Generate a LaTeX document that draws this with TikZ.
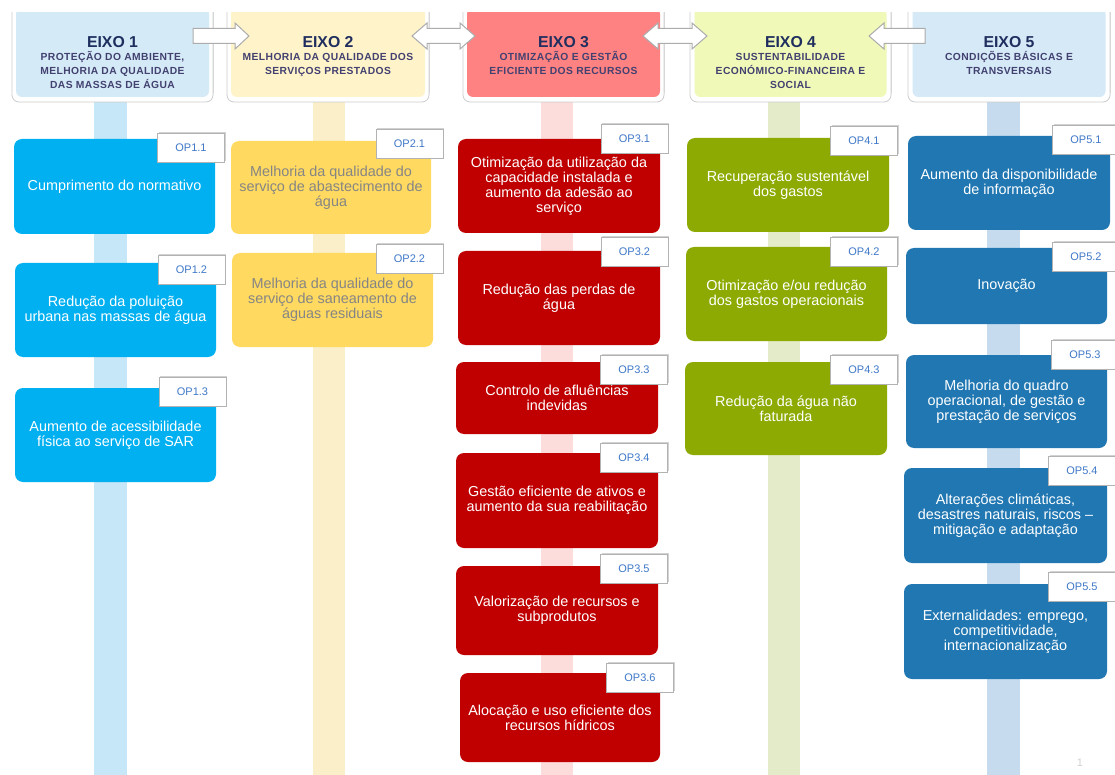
\documentclass[tikz,border=0pt]{standalone}
\usepackage{fontspec}
\setmainfont{Liberation Sans}
\newfontfamily\hsubfont[LetterSpace=4]{Liberation Sans}
\usetikzlibrary{shadows}
\definecolor{c1}{HTML}{00B0F0}
\definecolor{c2}{HTML}{FFD960}
\definecolor{c3}{HTML}{C00000}
\definecolor{c4}{HTML}{8DAA03}
\definecolor{c5}{HTML}{2077B2}
\definecolor{s1}{HTML}{C6E7F8}
\definecolor{s2}{HTML}{FBEFC9}
\definecolor{s3}{HTML}{FDDCDC}
\definecolor{s4}{HTML}{E4EBC9}
\definecolor{s5}{HTML}{C6DCEE}
\definecolor{h1c}{HTML}{D5EAF7}
\definecolor{h2c}{HTML}{FFF3CA}
\definecolor{h3c}{HTML}{FF8282}
\definecolor{h4c}{HTML}{F0F9B8}
\definecolor{h5c}{HTML}{D5E9F7}
\definecolor{titlec}{HTML}{1F2E5E}
\definecolor{subc}{HTML}{424170}
\definecolor{tagc}{HTML}{3F78C8}
\definecolor{graytext}{HTML}{858585}
\tikzset{
  opbox/.style={rounded corners=8, inner sep=0, align=center, text=white,
    font=\fontsize{14.4}{15}\selectfont},
  tag/.style={draw=gray!60, fill=white, line width=0.9, minimum width=67, minimum height=29,
    inner sep=0, text=tagc, font=\fontsize{11}{12}\selectfont,
    drop shadow={shadow xshift=1.2, shadow yshift=-1.2, opacity=0.35}},
  hframe/.style={fill=white, draw=gray!40, line width=0.8, rounded corners=7, inner sep=0,
    drop shadow={shadow xshift=0.5, shadow yshift=-2.5, opacity=0.45}},
  hfill/.style={rounded corners=6, inner sep=0},
  htitle/.style={anchor=base, inner sep=0, text=titlec, font=\fontsize{15.8}{16}\selectfont\bfseries},
  hsub/.style={anchor=north, inner sep=0, align=center, text=subc,
    font=\fontsize{10.3}{14}\selectfont\hsubfont\bfseries},
  blockarrow/.style={fill=white, draw=gray!65, line width=1, line join=miter},
}
\newcommand{\hstrut}{\rule{0pt}{10pt}}
\begin{document}
\begin{tikzpicture}[x=1pt,y=-1pt]
\useasboundingbox (0,0) rectangle (1115,775);
\fill[white] (0,0) rectangle (1115,775);
% stripes
\fill[s1] (94,100) rectangle (127,775);
\fill[s2] (313,100) rectangle (345,775);
\fill[s3] (541,100) rectangle (573,775);
\fill[s4] (768,100) rectangle (800,775);
\fill[s5] (987,100) rectangle (1020,775);
% headers
\begin{scope}
\clip (0,13) rectangle (1115,775);
\node[hframe, minimum width=201, minimum height=97] (h1frame) at (112.5,53.5) {};
\node[hfill, fill=h1c, minimum width=193, minimum height=89] (h1box) at (112.5,52.5) {};
\node[hframe, minimum width=202, minimum height=97] (h2frame) at (328,53.5) {};
\node[hfill, fill=h2c, minimum width=194, minimum height=89] (h2box) at (328,52.5) {};
\node[hframe, minimum width=201, minimum height=97] (h3frame) at (563.5,53.5) {};
\node[hfill, fill=h3c, minimum width=193, minimum height=89] (h3box) at (563.5,52.5) {};
\node[hframe, minimum width=201, minimum height=97] (h4frame) at (790.5,53.5) {};
\node[hfill, fill=h4c, minimum width=192, minimum height=89] (h4box) at (790.5,52.5) {};
\node[hframe, minimum width=202, minimum height=97] (h5frame) at (1009,53.5) {};
\node[hfill, fill=h5c, minimum width=193, minimum height=89] (h5box) at (1009,52.5) {};
\end{scope}
\node[htitle] (h1t) at (112.5,47.5) {EIXO 1};
\node[hsub] (h1s) at (112.5,50.8) {\hstrut PROTEÇÃO DO AMBIENTE,\\MELHORIA DA QUALIDADE\\DAS MASSAS DE ÁGUA};
\node[htitle] (h2t) at (328,47.5) {EIXO 2};
\node[hsub] (h2s) at (328,50.8) {\hstrut MELHORIA DA QUALIDADE DOS\\SERVIÇOS PRESTADOS};
\node[htitle] (h3t) at (563.5,47.5) {EIXO 3};
\node[hsub] (h3s) at (563.5,50.8) {\hstrut OTIMIZAÇÃO E GESTÃO\\EFICIENTE DOS RECURSOS};
\node[htitle] (h4t) at (790.5,47.5) {EIXO 4};
\node[hsub] (h4s) at (790.5,50.8) {\hstrut SUSTENTABILIDADE\\ECONÓMICO-FINANCEIRA E\\SOCIAL};
\node[htitle] (h5t) at (1009,47.5) {EIXO 5};
\node[hsub] (h5s) at (1009,50.8) {\hstrut CONDIÇÕES BÁSICAS E\\TRANSVERSAIS};
% block arrows between headers
\draw[blockarrow] (193,28.5) -- (235,28.5) -- (235,23) -- (249,36) -- (235,49) -- (235,43.5) -- (193,43.5) -- cycle;
\draw[blockarrow] (412,36) -- (427,23) -- (427,28.5) -- (460,28.5) -- (460,23) -- (475,36) -- (460,49) -- (460,43.5) -- (427,43.5) -- (427,49) -- cycle;
\draw[blockarrow] (643,36) -- (658,23) -- (658,28.5) -- (692,28.5) -- (692,23) -- (707,36) -- (692,49) -- (692,43.5) -- (658,43.5) -- (658,49) -- cycle;
\draw[blockarrow] (869,36) -- (884,23) -- (884,28.5) -- (925,28.5) -- (925,43.5) -- (884,43.5) -- (884,49) -- cycle;
% column 1
\node[opbox, fill=c1, minimum width=201, minimum height=95] (op11) at (114.5,186.5) {Cumprimento do normativo};
\node[opbox, fill=c1, minimum width=201, minimum height=94] (op12) at (115.5,310) {Redução da poluição\\urbana nas massas de água};
\node[opbox, fill=c1, minimum width=201, minimum height=94] (op13) at (115.5,435) {Aumento de acessibilidade\\física ao serviço de SAR};
\node[tag] (t11) at (191,147.5) {OP1.1};
\node[tag] (t12) at (191.5,269.5) {OP1.2};
\node[tag] (t13) at (192.5,391.5) {OP1.3};
% column 2
\node[opbox, fill=c2, text=graytext, minimum width=200, minimum height=93] (op21) at (331,187.5) {Melhoria da qualidade do\\serviço de abastecimento de\\água};
\node[opbox, fill=c2, text=graytext, minimum width=201, minimum height=94] (op22) at (332.5,300) {Melhoria da qualidade do\\serviço de saneamento de\\águas residuais};
\node[tag] (t21) at (409.5,144) {OP2.1};
\node[tag] (t22) at (409.5,259) {OP2.2};
% column 3
\node[opbox, fill=c3, minimum width=202, minimum height=94] (op31) at (559,186) {Otimização da utilização da\\capacidade instalada e\\aumento da adesão ao\\serviço};
\node[opbox, fill=c3, minimum width=202, minimum height=94] (op32) at (559,298) {Redução das perdas de\\água};
\node[opbox, fill=c3, minimum width=202, minimum height=72] (op33) at (557,398) {Controlo de afluências\\indevidas};
\node[opbox, fill=c3, minimum width=202, minimum height=95] (op34) at (557,500.5) {Gestão eficiente de ativos e\\aumento da sua reabilitação};
\node[opbox, fill=c3, minimum width=202, minimum height=89] (op35) at (557,610.5) {Valorização de recursos e\\subprodutos};
\node[opbox, fill=c3, minimum width=200, minimum height=89] (op36) at (560,717.5) {Alocação e uso eficiente dos\\recursos hídricos};
\node[tag] (t31) at (634.5,138.5) {OP3.1};
\node[tag] (t32) at (634.5,252) {OP3.2};
\node[tag] (t33) at (634,369.5) {OP3.3};
\node[tag] (t34) at (634,457.5) {OP3.4};
\node[tag] (t35) at (634,569) {OP3.5};
\node[tag] (t36) at (640,677.5) {OP3.6};
% column 4
\node[opbox, fill=c4, minimum width=202, minimum height=94] (op41) at (788,185) {Recuperação sustentável\\dos gastos};
\node[opbox, fill=c4, minimum width=201, minimum height=94] (op42) at (786.5,294) {Otimização e/ou redução\\dos gastos operacionais};
\node[opbox, fill=c4, minimum width=202, minimum height=93] (op43) at (786,408.5) {Redução da água não\\faturada};
\node[tag] (t41) at (864,140.5) {OP4.1};
\node[tag] (t42) at (864,252) {OP4.2};
\node[tag] (t43) at (864,370) {OP4.3};
% column 5
\node[opbox, fill=c5, minimum width=202, minimum height=94] (op51) at (1009,183) {Aumento da disponibilidade\\de informação};
\node[opbox, fill=c5, minimum width=201, minimum height=76] (op52) at (1006.5,286) {Inovação};
\node[opbox, fill=c5, minimum width=201, minimum height=93] (op53) at (1006.5,401.5) {Melhoria do quadro\\operacional, de gestão e\\prestação de serviços};
\node[opbox, fill=c5, minimum width=203, minimum height=95] (op54) at (1005.5,515.5) {Alterações climáticas,\\desastres naturais, riscos –\\mitigação e adaptação};
\node[opbox, fill=c5, minimum width=203, minimum height=95] (op55) at (1005.5,631.5) {Externalidades: emprego,\\competitividade,\\internacionalização};
\node[tag] (t51) at (1086,139.5) {OP5.1};
\node[tag] (t52) at (1086,256.5) {OP5.2};
\node[tag] (t53) at (1085,355) {OP5.3};
\node[tag] (t54) at (1082,471) {OP5.4};
\node[tag] (t55) at (1082,587) {OP5.5};
% page number
\node[text=gray!35, font=\fontsize{11}{12}\selectfont, inner sep=0] (pagenum) at (1080,763) {1};
\end{tikzpicture}
\end{document}
